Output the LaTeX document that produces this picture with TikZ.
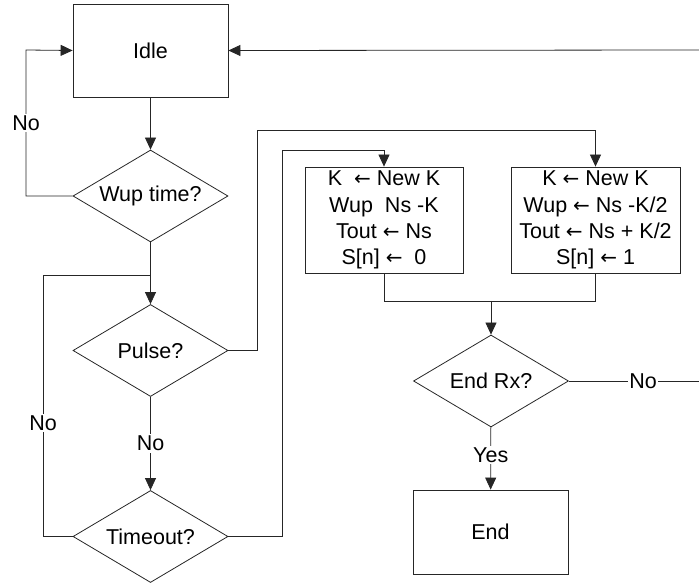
\documentclass[tikz,border=0pt]{standalone}
\usepackage{fontspec}
\setmainfont{Liberation Sans}
\newfontfamily\symfont{DejaVu Sans}
\usetikzlibrary{shapes.geometric,arrows.meta}
\newcommand{\larr}{{\symfont\fontsize{20}{20}\selectfont ←}}
\begin{document}
\begin{tikzpicture}[x=1pt,y=-1pt,
  every node/.style={font=\fontsize{21.5}{26.3}\selectfont},
  line/.style={draw=black!85,line width=0.8pt},
  flow/.style={line,-{Triangle[length=12pt,width=11pt]}},
  state/.style={line,rectangle,inner sep=0pt,align=center},
  test/.style={line,diamond,inner sep=0pt,minimum width=155pt,minimum height=92pt,shape aspect=1.68},
  lbl/.style={fill=white,inner sep=1.5pt}]
\useasboundingbox (0,0) rectangle (699,585);

% states and decisions
\node[state,minimum width=155pt,minimum height=93pt] (idle) at (150.5,50.5) {Idle};
\node[test] (wup) at (150.5,196) {Wup time?};
\node[test] (pulse) at (150.5,350.5) {Pulse?};
\node[test] (tout) at (150.5,536.5) {Timeout?};
\node[state,minimum width=158pt,minimum height=106pt] (box1) at (384,220)
  {K \ \larr{} New K\\Wup \ Ns -K\\Tout \larr{} Ns\\S[n] \larr{} \ 0};
\node[state,minimum width=169pt,minimum height=106pt] (box2) at (595.5,220)
  {K \larr{} New K\\Wup \larr{} Ns -K/2\\Tout \larr{} Ns + K/2\\S[n] \larr{} 1};
\node[test] (endrx) at (491,381) {End Rx?};
\node[state,minimum width=155pt,minimum height=84pt] (fin) at (490.5,532) {End};

% routing points
\coordinate (loopA) at (26,50);
\coordinate (loopB) at (43,275);
\coordinate (join) at (150.5,275);
\coordinate (pulseUp) at (257,130);
\coordinate (toutUp) at (282,150);
\coordinate (merge) at (491,301);
\coordinate (backIn) at (699,50);
\coordinate (noOut) at (699,381);

% connectors
\draw[flow] (idle) -- (wup);
\draw[flow] (wup.west) -| (loopA) -- (idle.west);
\node[lbl] at (26,123) {No};
\draw[flow] (wup) -- (pulse);
\draw[line] (tout.west) -| (loopB) -- (join);
\node[lbl] at (43,423) {No};
\draw[flow] (pulse) -- (tout) node[lbl,pos=0.5] {No};
\draw[flow] (pulse.east) -| (pulseUp) -| (box2.north);
\draw[flow] (tout.east) -| (toutUp) -| (box1.north);
\draw[line] (box1.south) |- (merge);
\draw[line] (box2.south) |- (merge);
\draw[flow] (merge) -- (endrx);
\draw[line] (endrx.east) -- (noOut) node[lbl,pos=0.57] {No};
\draw[flow] (endrx) -- (fin) node[lbl,pos=0.45] {Yes};
\draw[flow] (backIn) -- (idle.east);
\end{tikzpicture}
\end{document}
